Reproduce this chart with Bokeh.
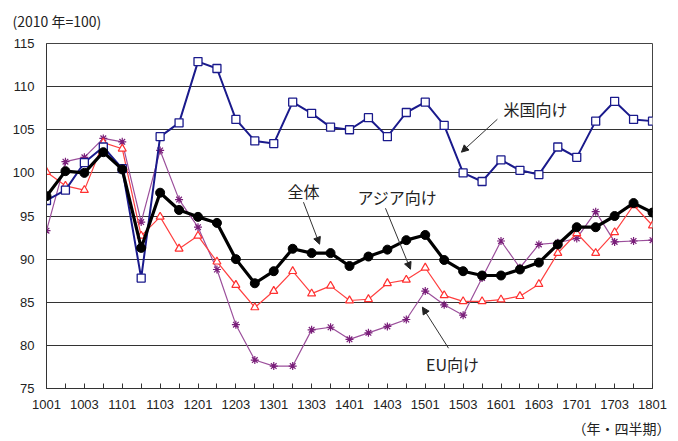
from bokeh.plotting import figure
from bokeh.models import Range1d, FixedTicker, Label, Arrow, NormalHead, ColumnDataSource, Title
from bokeh.embed import file_html
from bokeh.resources import INLINE

quarters = ["1001", "1002", "1003", "1004", "1101", "1102", "1103", "1104",
            "1201", "1202", "1203", "1204", "1301", "1302", "1303", "1304",
            "1401", "1402", "1403", "1404", "1501", "1502", "1503", "1504",
            "1601", "1602", "1603", "1604", "1701", "1702", "1703", "1704", "1801"]

us = [96.8, 98.0, 101.2, 103.0, 100.5, 87.8, 104.2, 105.8, 112.9, 112.1, 106.2, 103.7,
      103.4, 108.2, 106.9, 105.3, 105.0, 106.4, 104.2, 107.0, 108.2, 105.5, 100.0, 99.0,
      101.5, 100.3, 99.8, 103.0, 101.8, 106.0, 108.3, 106.2, 106.0]

total = [97.3, 100.2, 100.0, 102.4, 100.4, 91.3, 97.7, 95.7, 94.9, 94.2, 90.0, 87.2,
         88.6, 91.2, 90.7, 90.7, 89.2, 90.3, 91.1, 92.2, 92.8, 89.9, 88.6, 88.1,
         88.1, 88.8, 89.6, 91.7, 93.7, 93.7, 95.0, 96.5, 95.4]

asia = [100.1, 98.5, 98.0, 103.5, 102.8, 92.7, 94.9, 91.2, 92.7, 89.7, 87.0, 84.4,
        86.3, 88.6, 86.0, 86.9, 85.2, 85.35, 87.2, 87.6, 89.0, 85.8, 85.1, 85.1,
        85.3, 85.7, 87.1, 90.7, 93.0, 90.7, 93.1, 96.25, 93.9]

eu = [93.3, 101.3, 101.8, 104.0, 103.6, 94.3, 102.6, 96.9, 93.7, 88.8, 82.4, 78.3,
      77.6, 77.6, 81.8, 82.1, 80.7, 81.45, 82.2, 83.0, 86.3, 84.7, 83.5, 87.8,
      92.1, 89.0, 91.7, 91.9, 92.4, 95.5, 92.0, 92.1, 92.2]

y_ticks = [75, 80, 85, 90, 95, 100, 105, 110, 115]

xs = list(range(len(quarters)))
src = ColumnDataSource(dict(x=xs, us=us, total=total, asia=asia, eu=eu))

W, H = 678, 441
p = figure(width=W, height=H, output_backend="svg", toolbar_location=None,
           x_range=Range1d(0, len(quarters) - 1), y_range=Range1d(75, 115),
           min_border_left=46, min_border_right=26, min_border_top=43, min_border_bottom=53)
p.background_fill_color = "white"
p.border_fill_color = "white"
p.outline_line_color = "#444444"
p.outline_line_width = 1

p.xgrid.visible = False
p.ygrid.grid_line_color = "#333333"
p.ygrid.grid_line_width = 1
p.yaxis.ticker = FixedTicker(ticks=y_ticks)
p.xaxis.ticker = FixedTicker(ticks=xs)
p.xaxis.major_label_overrides = {i: (q if i % 2 == 0 else "") for i, q in enumerate(quarters)}

num_font = "Liberation Sans"
for ax in (p.xaxis[0], p.yaxis[0]):
    ax.axis_line_color = "#333333"
    ax.major_label_text_font = num_font
    ax.major_label_text_font_size = "13px"
    ax.major_label_text_color = "#222222"
    ax.minor_tick_line_color = None
    ax.major_tick_out = 0
p.xaxis.major_tick_in = 5
p.xaxis.major_tick_line_color = "#333333"
p.xaxis.major_label_standoff = 11
p.yaxis.major_tick_in = 0
p.yaxis.major_tick_line_color = None
p.yaxis.major_label_standoff = 12

# EU
p.line("x", "eu", source=src, line_color="#9B4F9B", line_width=1.2)
p.scatter("x", "eu", source=src, marker="asterisk", size=8, line_color="#7A1F7A", line_width=1.2)
# Asia
p.line("x", "asia", source=src, line_color="#FF4040", line_width=1.2)
p.scatter("x", "asia", source=src, marker="triangle", size=8, line_color="#FF3030",
          fill_color="white", line_width=1.2)
# US
p.line("x", "us", source=src, line_color="#1A1A8C", line_width=2)
p.scatter("x", "us", source=src, marker="square", size=8, line_color="#1A1A8C",
          fill_color="white", line_width=1.3)
# Total
p.line("x", "total", source=src, line_color="black", line_width=3.2)
p.scatter("x", "total", source=src, marker="circle", size=9, line_color="black", fill_color="black")

jp_font = "Noto Sans CJK JP"

def add_label(x, y, text, size="16px", align="center"):
    p.add_layout(Label(x=x, y=y, text=text, text_font=jp_font, text_font_size=size,
                       text_color="#222222", text_align=align, text_baseline="middle"))

def add_arrow(x0, y0, x1, y1):
    p.add_layout(Arrow(x_start=x0, y_start=y0, x_end=x1, y_end=y1, line_color="#333333",
                       line_width=1, end=NormalHead(size=7, fill_color="#222222",
                                                     line_color="#222222")))

add_label(13.57, 97.9, "全体")
add_arrow(13.57, 96.6, 14.42, 91.73)
add_label(18.53, 97.18, "アジア向け")
add_arrow(17.9, 95.9, 19.22, 88.83)
add_label(21.44, 77.82, "EU向け")
add_arrow(21.23, 79.67, 19.85, 84.43)
add_label(25.82, 107.38, "米国向け")
add_arrow(23.81, 106.22, 21.91, 102.4)

# small blank spacer between the frame and the unit caption
spacer = Title(text=" ", align="left", standoff=0, text_font=num_font,
               text_font_size="8px", text_color="white")
p.add_layout(spacer, "above")
top_title = Title(text="(2010 年=100)", align="left", offset=-34, standoff=0,
                  vertical_align="top",
                  text_font=jp_font, text_font_size="14px", text_font_style="normal",
                  text_color="#222222")
p.add_layout(top_title, "above")
bottom_title = Title(text="（年・四半期）", align="right", offset=-18, standoff=8,
                     text_font=jp_font, text_font_size="14px", text_font_style="normal",
                     text_color="#222222")
p.add_layout(bottom_title, "below")

open("out.html", "w").write(file_html(p, INLINE))
